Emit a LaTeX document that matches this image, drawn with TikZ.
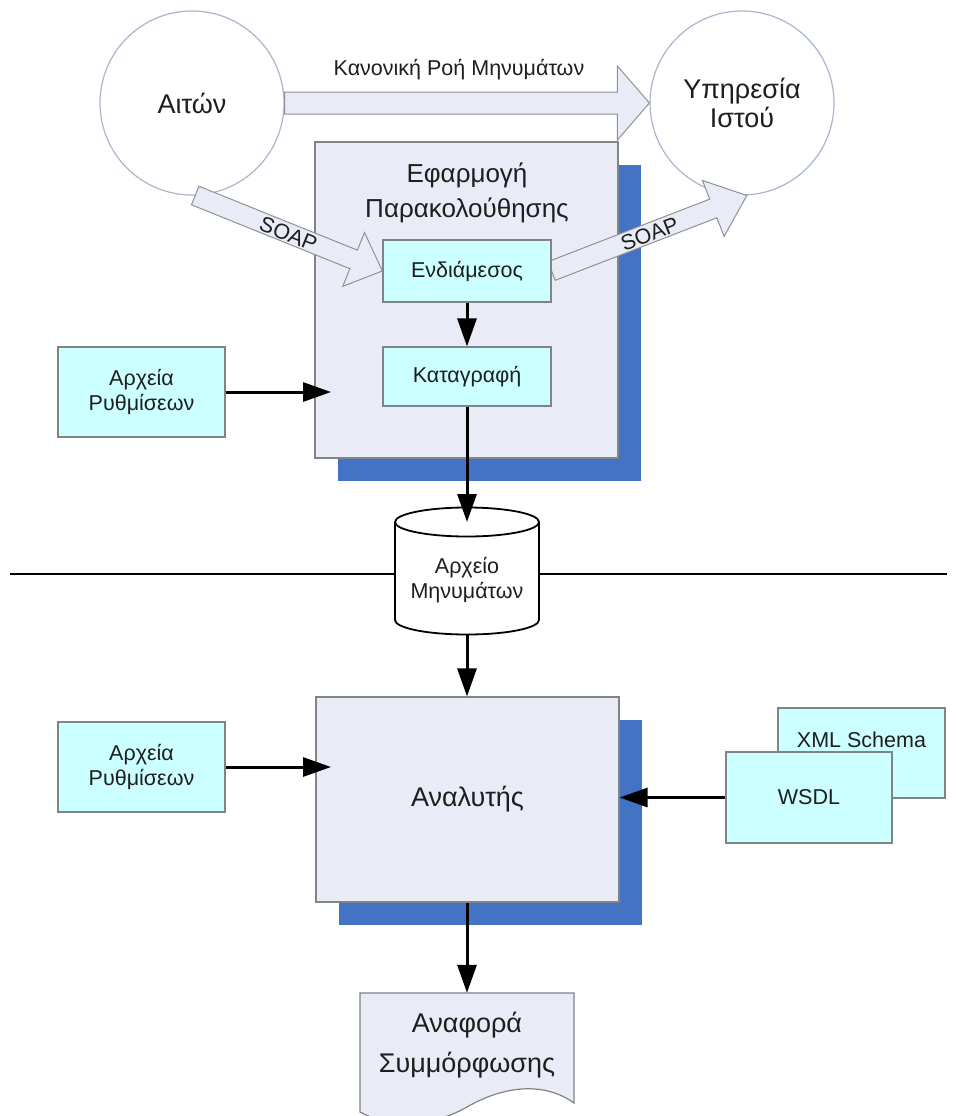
\documentclass[tikz,border=0pt]{standalone}
\usepackage{fontspec}
\setmainfont{Liberation Sans}
\usetikzlibrary{arrows.meta,calc,shadows}

\definecolor{ink}{HTML}{1E1E1E}
\definecolor{cyanfill}{HTML}{CCFFFF}
\definecolor{panelfill}{HTML}{E9ECF6}
\definecolor{boxedge}{HTML}{7F8487}
\definecolor{shadowblue}{HTML}{4472C4}
\definecolor{circedge}{HTML}{A9B6CF}
\definecolor{arrowedge}{HTML}{8E9297}

\pgfdeclarelayer{back}
\pgfdeclarelayer{mid}
\pgfsetlayers{back,mid,main}

% wide hollow arrow from #2 to #3: shaft half width #4, head half width #5, head length #6
\newcommand\blockarrowpath[6]{%
  \coordinate (#1-neck) at ($(#3)!#6!(#2)$);
  \path[blockfill] ($(#2)!#4!90:(#3)$) -- ($(#1-neck)!#4!90:(#3)$)
    -- ($(#1-neck)!#5!90:(#3)$) -- (#3) -- ($(#1-neck)!#5!270:(#3)$)
    -- ($(#1-neck)!#4!270:(#3)$) -- ($(#2)!#4!270:(#3)$) -- cycle;
}

\tikzset{
  txt/.style={font=\fontsize{21.5}{25}\selectfont, text=ink, align=center},
  bigtxt/.style={font=\fontsize{27}{30}\selectfont, text=ink, align=center},
  filebox/.style={rectangle, draw=boxedge, fill=cyanfill, line width=1.2pt,
    minimum width=167pt, minimum height=90pt, inner sep=0pt, txt},
  panel/.style={rectangle, draw=boxedge, fill=panelfill, line width=1.2pt, inner sep=0pt,
    drop shadow={shadow xshift=23pt, shadow yshift=-23pt, fill=shadowblue, opacity=1, draw=none}},
  actor/.style={circle, draw=circedge, fill=white, line width=1.2pt,
    minimum size=184pt, inner sep=0pt, bigtxt},
  blockfill/.style={fill=panelfill, draw=arrowedge, line width=1pt, line join=miter},
  flowline/.style={line width=3pt, draw=black, -{Triangle[length=28pt,width=19pt]}},
  rule/.style={line width=2.5pt, draw=black},
  dbline/.style={line width=1.8pt, draw=black, fill=white},
  paper/.style={fill=panelfill, draw=boxedge, line width=1.2pt},
  soap/.style={font=\fontsize{21.5}{25}\selectfont, text=ink, inner sep=0pt},
}

\begin{document}
\begin{tikzpicture}[x=1pt,y=1pt]
\useasboundingbox (0,0) rectangle (957,-1116);

% circles and the two large panels sit underneath everything else
\begin{pgfonlayer}{back}
  \fill[white] (0,0) rectangle (957,-1116);
  \node[actor] (client) at (192,-103) {Αιτών};
  \node[actor] (service) at (742,-103) {Υπηρεσία\\[-1pt]Ιστού};
  \node[panel, minimum width=303pt, minimum height=316pt] (monitor) at (466.5,-300) {};
  \node[panel, minimum width=303pt, minimum height=205pt, bigtxt] (analyzer) at (467.5,-799.5) {Αναλυτής};
\end{pgfonlayer}

% upper half: monitoring application
\node[font=\fontsize{26}{35}\selectfont, text=ink, align=center] (montitle) at (467,-192.5)
  {Εφαρμογή\\Παρακολούθησης};
\node[filebox, minimum width=168pt, minimum height=62pt] (proxy) at (467,-271) {Ενδιάμεσος};
\node[filebox, minimum width=168pt, minimum height=59pt] (logger) at (467,-376.5) {Καταγραφή};
\node[filebox] (cfgtop) at (141.5,-392) {Αρχεία\\Ρυθμίσεων};
\coordinate (monin) at (331,-392);

% hollow message arrows
\begin{pgfonlayer}{mid}
  \blockarrowpath{direct}{client.east}{service.west}{11pt}{37pt}{32pt}
  \node[txt] (directlabel) at ($(client.east)!0.5!(service.west)+(-8,33)$) {Κανονική Ροή Μηνυμάτων};
  \blockarrowpath{soapin}{client.-88}{proxy.west}{10pt}{29pt}{31pt}
  \path (client.-88) -- node[soap, sloped, pos=0.5, yshift=-1pt] (soapinlabel) {SOAP} (proxy.west);
  \blockarrowpath{soapout}{proxy.east}{service.-87}{10pt}{30pt}{36pt}
  \path (proxy.east) -- node[soap, sloped, pos=0.5, yshift=-1pt] (soapoutlabel) {SOAP} (service.-87);
\end{pgfonlayer}

\draw[flowline] (proxy.south) -- (logger.north);
\draw[flowline] (cfgtop.east) -- (monin);

% dividing rule and the message store
\coordinate (ruleleft) at (10,-574);
\coordinate (ruleright) at (947,-574);
\draw[rule] (ruleleft) -- (ruleright);

\coordinate (dbtop) at (467,-522);
\coordinate (dbbottom) at (467,-620);
\coordinate (dbfoot) at (467,-634.5);
\filldraw[dbline] ($(dbtop)+(-72,0)$) -- ($(dbbottom)+(-72,0)$)
  arc[start angle=180, end angle=360, x radius=72pt, y radius=14.5pt]
  -- ($(dbtop)+(72,0)$)
  arc[start angle=0, end angle=180, x radius=72pt, y radius=14.5pt] -- cycle;
\draw[dbline, fill=none] ($(dbtop)+(-72,0)$)
  arc[start angle=180, end angle=360, x radius=72pt, y radius=14.5pt];
\node[txt] (archive) at (467,-580.5) {Αρχείο\\Μηνυμάτων};

\draw[flowline] (logger.south) -- (dbtop);
\draw[flowline] (dbfoot) -- (dbfoot |- analyzer.north);

% lower half: analyser inputs
\node[filebox] (cfgbottom) at (141.5,-767) {Αρχεία\\Ρυθμίσεων};
\coordinate (anain) at (331,-767);
\draw[flowline] (cfgbottom.east) -- (anain);

\node[filebox, label={[txt, yshift=13pt]center:XML Schema}] (xsd) at (861.5,-753) {};
\node[filebox, minimum width=166pt, minimum height=91pt] (wsdl) at (809,-797.5) {WSDL};
\draw[flowline] (wsdl.west) -- (wsdl.west -| analyzer.east);

% compliance report (document shape)
\filldraw[paper] (360,-993) -- (574,-993) -- (574,-1103)
  .. controls (545,-1082) and (505,-1085) .. (467,-1107)
  .. controls (430,-1128) and (390,-1128) .. (360,-1112) -- cycle;
\node[rectangle, minimum width=214pt, minimum height=104pt, inner sep=0pt,
  font=\fontsize{27}{40}\selectfont, text=ink, align=center] (report) at (467,-1045)
  {Αναφορά\\Συμμόρφωσης};
\draw[flowline] (analyzer.south -| report.north) -- (report.north);
\end{tikzpicture}
\end{document}
